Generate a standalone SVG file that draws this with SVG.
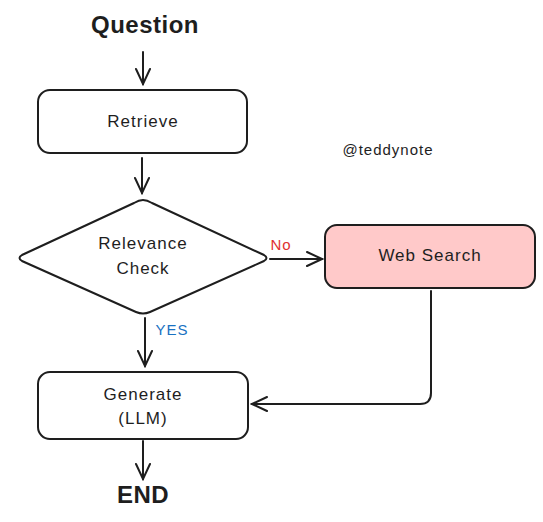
<svg xmlns="http://www.w3.org/2000/svg" width="543" height="522" viewBox="0 0 543 522">
<style>
.box{fill:#ffffff;stroke:#1e1e1e;stroke-width:2}
.edge{fill:none;stroke:#1e1e1e;stroke-width:2;stroke-linecap:round;stroke-linejoin:round}
.t{font-family:"Liberation Sans",Arial,sans-serif;font-size:17px;letter-spacing:1px;fill:#1e1e1e;text-anchor:middle}
.big{font-size:24px;font-weight:bold;letter-spacing:0.5px}
.lbl{font-size:15px;letter-spacing:1px}
</style>
<defs>
<marker id="ah" viewBox="0 0 20 20" refX="18" refY="10" markerWidth="20" markerHeight="20" markerUnits="userSpaceOnUse" orient="auto">
<path d="M3,3 L18,10 L3,17" fill="none" stroke="#1e1e1e" stroke-width="2" stroke-linecap="round"/>
</marker>
</defs>
<rect width="543" height="522" fill="#ffffff"/>
<g id="question"><text class="t big" x="145" y="33">Question</text></g>
<g id="retrieve"><rect class="box" x="38" y="90" width="209" height="63" rx="12"/><text class="t" x="143" y="127">Retrieve</text></g>
<g id="relevance"><path class="box" d="M143,200 Q147,200 152,203 L264,255 Q269,258 264,261 L150,312 Q143,315 136,312 L22,261 Q17,258 22,255 L134,203 Q139,200 143,200 Z"/><text class="t" x="143" y="249">Relevance</text><text class="t" x="143" y="274">Check</text></g>
<g id="websearch"><rect class="box" x="325" y="225" width="210" height="63" rx="12" style="fill:#ffc9c9"/><text class="t" x="430" y="261">Web Search</text></g>
<g id="generate"><rect class="box" x="38" y="372" width="210" height="67" rx="12"/><text class="t" x="143" y="400">Generate</text><text class="t" x="143" y="424">(LLM)</text></g>
<g id="end"><text class="t big" x="143" y="503">END</text></g>
<g id="watermark"><text class="t lbl" x="388" y="155">@teddynote</text></g>
<g id="connectors">
<path class="edge" d="M143,52 L143,84" marker-end="url(#ah)"/>
<path class="edge" d="M142,158 L142,193" marker-end="url(#ah)"/>
<path class="edge" d="M270,259 L322,259" marker-end="url(#ah)"/>
<path class="edge" d="M145,318 L145,366" marker-end="url(#ah)"/>
<path class="edge" d="M431,291 L431,393 Q431,404 420,404 L252,404" marker-end="url(#ah)"/>
<path class="edge" d="M143,441 L143,479" marker-end="url(#ah)"/>
<text class="t lbl" x="281" y="250" style="fill:#e03131">No</text>
<text class="t lbl" x="172" y="335" style="fill:#1971c2">YES</text>
</g>
</svg>
